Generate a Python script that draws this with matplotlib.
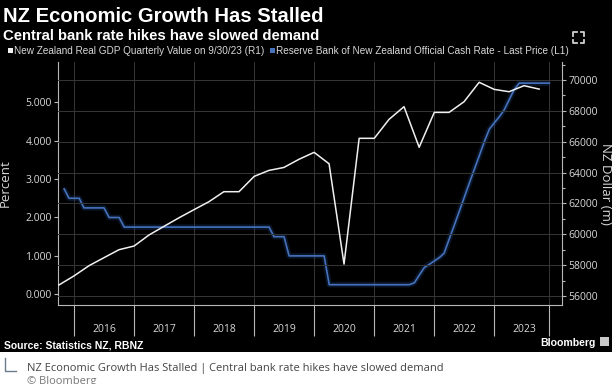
import numpy as np
import pandas as pd
import matplotlib
matplotlib.use('Agg')
import matplotlib.pyplot as plt
import matplotlib.dates as mdates
from matplotlib.patches import Rectangle
from matplotlib.lines import Line2D

# NZ real GDP, quarterly (NZD m), Q3 2015 .. Q3 2023
gdp_dates = pd.date_range('2015-09-30', periods=33, freq='QE')
gdp_values = [56710, 57300, 57960, 58480, 59000, 59240, 59950, 60510, 61070, 61600,
              62110, 62760, 62760, 63750, 64140, 64330, 64860, 65310, 64570, 58070,
              66220, 66220, 67450, 68270, 65640, 67900, 67900, 68590, 69850, 69390,
              69240, 69630, 69410]

# RBNZ official cash rate, monthly, Nov 2015 .. Dec 2023
ocr_dates = pd.date_range('2015-11-01', periods=98, freq='MS')
ocr_values = ([2.75, 2.5] +
              [2.5, 2.5, 2.25, 2.25, 2.25, 2.25, 2.25, 2.0, 2.0, 2.0, 1.75, 1.75] +
              [1.75] * 12 +
              [1.75] * 12 +
              [1.75, 1.75, 1.75, 1.75, 1.5, 1.5, 1.5, 1.0, 1.0, 1.0, 1.0, 1.0] +
              [1.0, 1.0, 1.0, 0.25, 0.25, 0.25, 0.25, 0.25, 0.25, 0.25, 0.25, 0.25] +
              [0.25, 0.25, 0.25, 0.25, 0.25, 0.25, 0.25, 0.25, 0.3, 0.5, 0.7, 0.78] +
              [0.87, 0.96, 1.07, 1.44, 1.79, 2.16, 2.52, 2.89, 3.26, 3.61, 3.98, 4.3] +
              [4.47, 4.63, 4.8, 5.07, 5.33, 5.5, 5.5, 5.5, 5.5, 5.5, 5.5, 5.5])

years = list(range(2016, 2024))
left_ticks = [0, 1, 2, 3, 4, 5]
right_ticks = list(range(56000, 70001, 2000))

title = 'NZ Economic Growth Has Stalled'
subtitle = 'Central bank rate hikes have slowed demand'
gdp_name = 'New Zealand Real GDP Quarterly Value on 9/30/23 (R1)'
ocr_name = 'Reserve Bank of New Zealand Official Cash Rate - Last Price (L1)'

W, H = 615, 384
def fx(x):
    return x / W
def fy(y):
    return 1 - y / H

TXT = '#d8d8d8'
GRID = '#363636'
SPINE = '#b8b8b8'
BLUE = '#4672bc'

fig = plt.figure(figsize=(6.15, 3.84), dpi=100)
fig.patch.set_facecolor('white')
fig.patches.append(Rectangle((0, fy(352)), fx(612), 1 - fy(352), transform=fig.transFigure,
                             facecolor='black', edgecolor='none', zorder=-5))

ax = fig.add_axes([fx(58), fy(305), fx(562) - fx(58), fy(62) - fy(305)])
ax.set_facecolor('none')
ax2 = ax.twinx()

# cash rate (left axis) with a soft glow
ax.plot(ocr_dates, ocr_values, color='#24509c', lw=4, alpha=0.25, solid_capstyle='butt')
ax.plot(ocr_dates, ocr_values, color=BLUE, lw=1.2)
# GDP (right axis)
ax2.plot(gdp_dates, gdp_values, color='#f0f0f0', lw=1.1)

ax.set_xlim(pd.Timestamp('2015-09-25'), pd.Timestamp('2024-02-16'))
ax.set_ylim(-0.279, 6.05)
ax2.set_ylim(55417, 71166)

major = [mdates.date2num(pd.Timestamp(f'{y}-01-01')) for y in years]
major.append(mdates.date2num(ocr_dates[-1]))
ax.set_xticks(major)
ax.set_xticklabels([])
ax.set_xticks([mdates.date2num(pd.Timestamp(f'{y}-07-01')) for y in years], minor=True)
ax.set_xticklabels([str(y) for y in years], minor=True)
ax.tick_params(axis='x', which='major', length=22, width=0.8, color=SPINE, direction='out')
ax.tick_params(axis='x', which='minor', length=0, pad=14, labelsize=7.5, labelcolor=TXT)
ax.grid(axis='x', which='major', color=GRID, lw=0.7)

ax.set_yticks(left_ticks)
ax.set_yticklabels([f'{v:.3f}' for v in left_ticks])
ax.tick_params(axis='y', length=3, width=0.8, color=SPINE, labelsize=7.5, labelcolor=TXT, pad=1.5)

ax2.set_yticks(right_ticks)
ax2.set_yticklabels([str(v) for v in right_ticks])
ax2.set_yticks(range(57000, 71001, 2000), minor=True)
ax2.tick_params(axis='y', which='major', length=3, width=0.8, color=SPINE, labelsize=7.5,
                labelcolor=TXT, pad=1.5)
ax2.tick_params(axis='y', which='minor', length=2, width=0.8, color=SPINE)
ax2.grid(axis='y', which='major', color=GRID, lw=0.7)

for lab in ax.get_xticklabels(minor=True) + ax.get_yticklabels() + ax2.get_yticklabels():
    lab.set_family(['Open Sans', 'DejaVu Sans'])

for a in (ax, ax2):
    a.spines['top'].set_visible(False)
    for s in a.spines.values():
        s.set_color(SPINE)
        s.set_linewidth(0.8)
ax.spines['right'].set_visible(False)
ax2.spines['left'].set_visible(False)
ax2.spines['bottom'].set_visible(False)

ax.set_ylabel('Percent', color=TXT, fontsize=9.5, family=['Open Sans', 'DejaVu Sans'])
ax.yaxis.set_label_coords((12 - 58) / 504, 0.5)
ax2.set_ylabel('NZ Dollar (m)', color=TXT, fontsize=9.5, rotation=270, va='center',
               family=['Open Sans', 'DejaVu Sans'])
ax2.yaxis.set_label_coords((606 - 58) / 504, 0.5)

# titles
fig.text(fx(3), fy(22), title, color='white', fontsize=14.6, weight='bold',
         family=['Liberation Sans', 'DejaVu Sans'], va='baseline')
fig.text(fx(3), fy(40), subtitle, color='white', fontsize=10.7, weight='bold',
         family=['Liberation Sans', 'DejaVu Sans'], va='baseline')

# legend
fig.patches.append(Rectangle((fx(8), fy(53)), fx(5), 5 / H, transform=fig.transFigure,
                             facecolor='#f0f0f0', edgecolor='none'))
fig.text(fx(14), fy(50.5), gdp_name, color=TXT, fontsize=7.2,
         family=['Liberation Sans', 'DejaVu Sans'], va='center')
fig.patches.append(Rectangle((fx(270), fy(53)), fx(5), 5 / H, transform=fig.transFigure,
                             facecolor=BLUE, edgecolor='none'))
fig.text(fx(276), fy(50.5), ocr_name, color=TXT, fontsize=7.2,
         family=['Liberation Sans', 'DejaVu Sans'], va='center')

# expand icon
for cx, cy, dx, dy in [(573, 32, 1, 1), (584, 32, -1, 1), (573, 43, 1, -1), (584, 43, -1, -1)]:
    fig.lines.append(Line2D([fx(cx + 3.5 * dx), fx(cx), fx(cx)],
                            [fy(cy), fy(cy), fy(cy + 3.5 * dy)],
                            transform=fig.transFigure, color='#d0d0d0', lw=1.3))

# footer
fig.text(fx(4), fy(349), 'Source: Statistics NZ, RBNZ', color='white', fontsize=7.5,
         weight='bold', family=['Liberation Sans', 'DejaVu Sans'], va='baseline')
fig.text(fx(596), fy(346), 'Bloomberg', color='white', fontsize=7.6, weight='bold',
         ha='right', family=['Liberation Sans', 'DejaVu Sans'], va='baseline')
fig.patches.append(Rectangle((fx(600), fy(346)), fx(9), 9 / H, transform=fig.transFigure,
                             facecolor='#c8c8c8', edgecolor='none'))

# caption under the chart
fig.lines.append(Line2D([fx(5), fx(5), fx(16)], [fy(358), fy(371), fy(371)],
                        transform=fig.transFigure, color='#6a7b8c', lw=1))
fig.text(fx(27), fy(371), title + ' | ' + subtitle, color='#444444', fontsize=8,
         family=['Open Sans', 'DejaVu Sans'], va='baseline')
fig.text(fx(27), fy(376), '\u00a9 Bloomberg', color='#777777', fontsize=8,
         family=['Open Sans', 'DejaVu Sans'], va='top')

fig.savefig('out.png', dpi=100, facecolor=fig.get_facecolor())
